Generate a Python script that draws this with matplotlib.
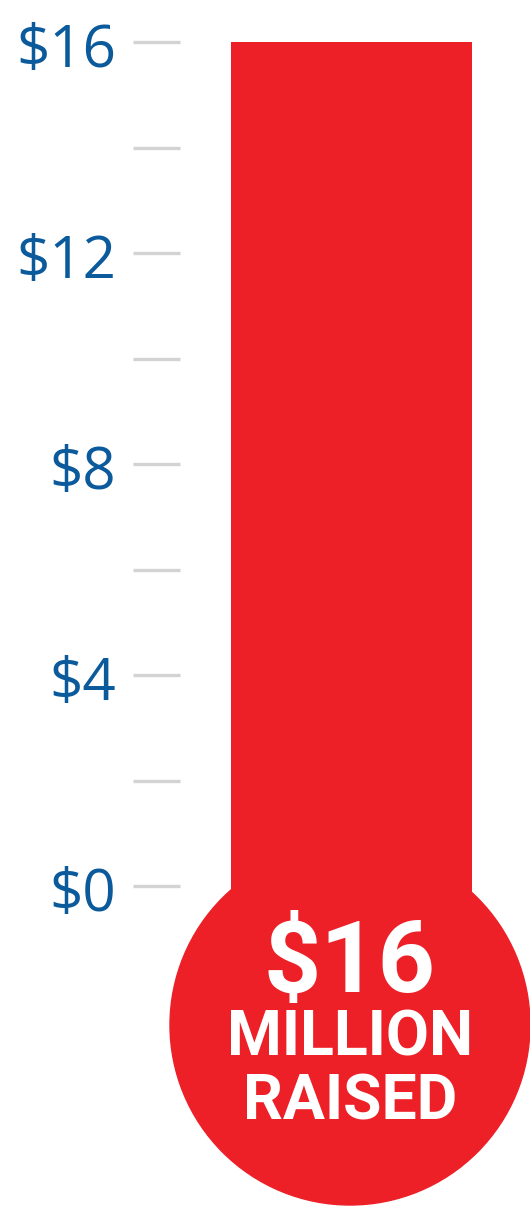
import matplotlib.pyplot as plt
from matplotlib.patches import Circle

# data
raised = 16
tick_major = [0, 4, 8, 12, 16]
tick_minor = [2, 6, 10, 14]
tick_labels = ["$0", "$4", "$8", "$12", "$16"]
caption = ["MILLION", "RAISED"]

red = "#ed1f27"
blue = "#0b5a9b"
grey = "#d3d3d3"

px = 52.75  # pixels per million
fig = plt.figure(figsize=(5.30, 12.06), dpi=100)
ax = fig.add_axes([0, 0, 1, 1])
ax.set_xlim(0, 530 / px)
ax.set_ylim(16 - 1206 / px + 42 / px, 16 + 42 / px)
ax.set_aspect("equal")
ax.axis("off")

# bulb
cx, cy, r = 350 / px, 16 - 983 / px, 180 / px
ax.add_patch(Circle((cx, cy), r, color=red, zorder=2))

# stem
ax.bar(6.664, raised - cy, bottom=cy, width=4.569, color=red, zorder=2)

# ticks
for v in tick_major + tick_minor:
    ax.plot([133 / px, 180 / px], [v, v], color=grey, lw=2.4, solid_capstyle="butt")
for v, lab in zip(tick_major, tick_labels):
    ax.text(116 / px, v - 0.47, lab, ha="right", va="baseline",
            fontsize=42, color=blue, family="Open Sans")

# bulb text
bold = dict(ha="center", va="baseline", color="white", family="Roboto",
            fontweight="bold", fontstyle="normal")
ax.text(cx, cy + 0.62, "$%d" % raised, fontsize=72, **bold)
ax.text(cx, cy - 0.57, caption[0], fontsize=45, **bold)
ax.text(cx, cy - 1.80, caption[1], fontsize=45, **bold)

fig.savefig("out.png", dpi=100)
